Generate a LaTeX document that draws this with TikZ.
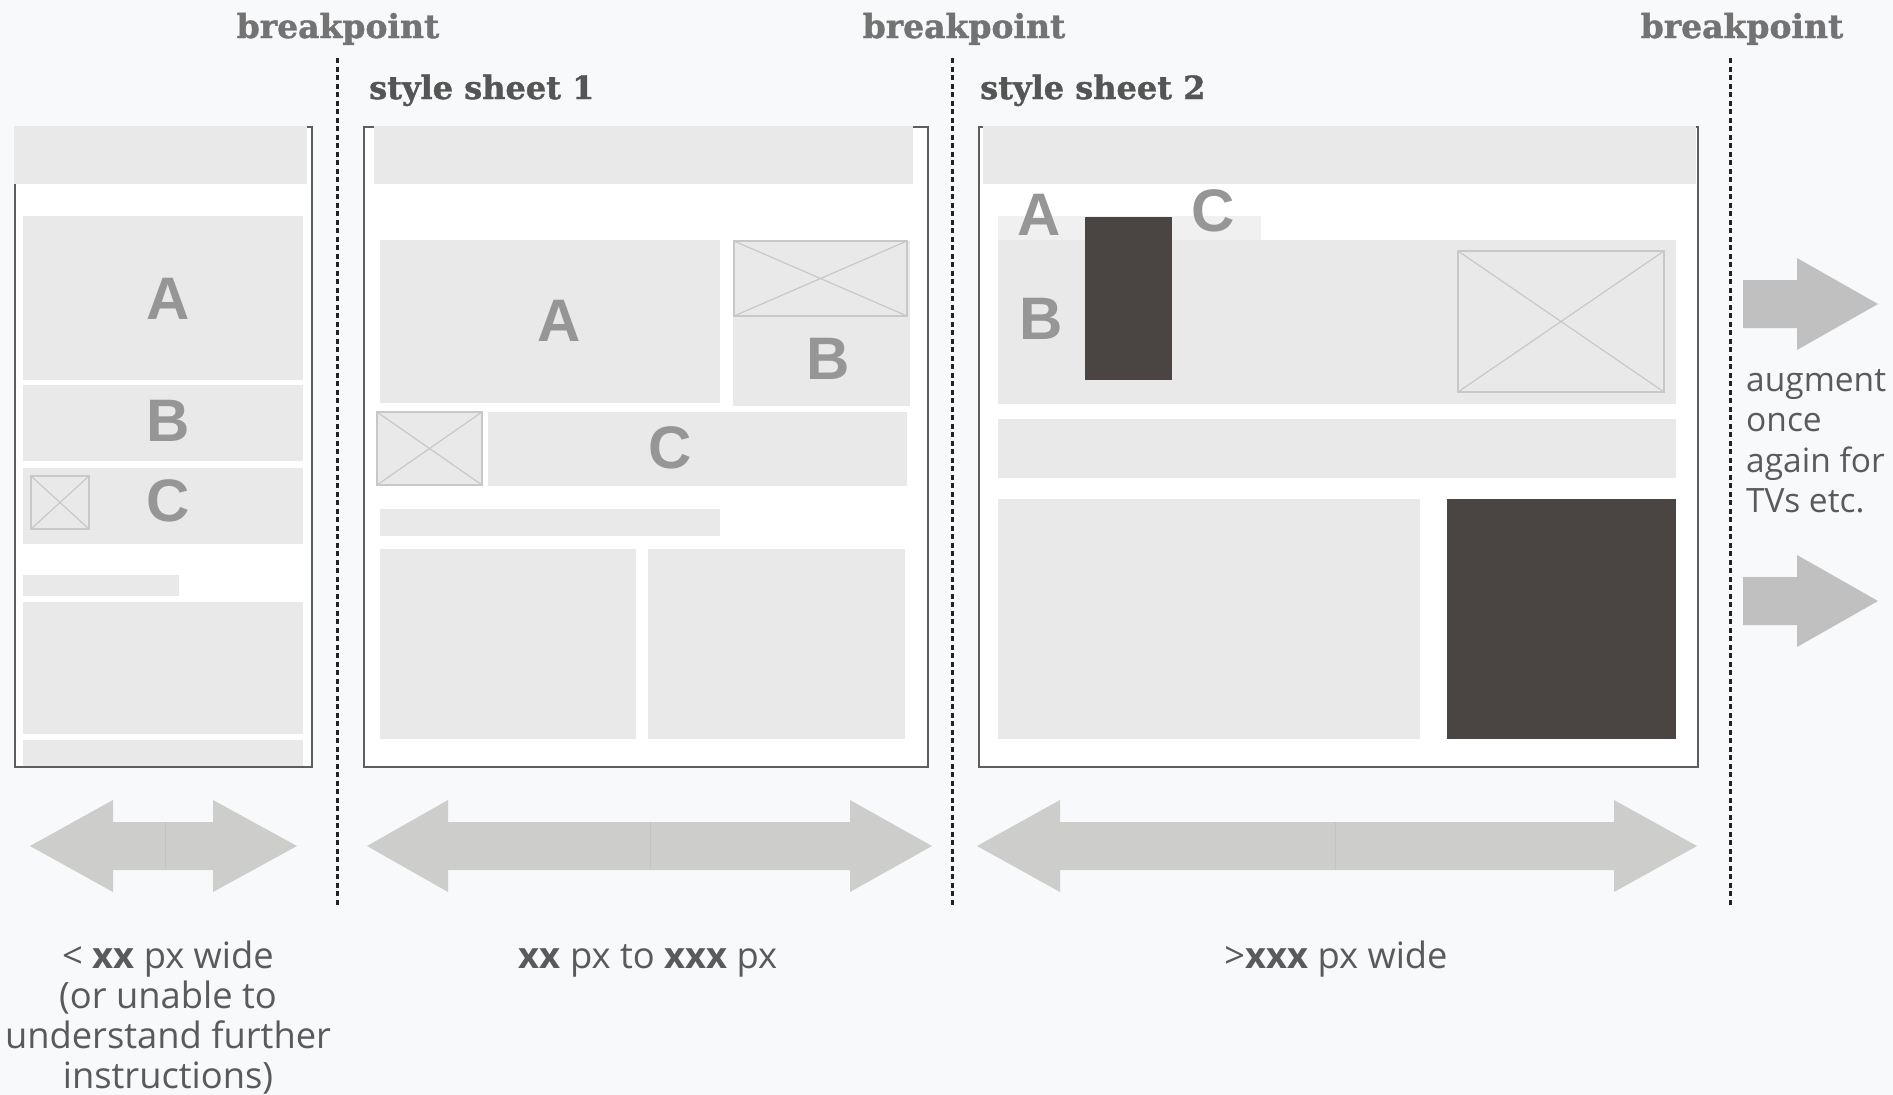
\documentclass[tikz,border=0pt]{standalone}
\usepackage{fontspec}
\setmainfont{Open Sans}
\newfontfamily\slabfont[BoldFeatures={FakeBold=1.2}]{DejaVu Serif}
\newfontfamily\letterfont{Liberation Sans}
\definecolor{bg}{HTML}{F8F9FA}
\definecolor{blockgray}{HTML}{E8E9E8}
\definecolor{stripgray}{HTML}{F0F0F0}
\definecolor{framegray}{HTML}{5E5E5E}
\definecolor{darkbrown}{HTML}{4A4542}
\definecolor{imggray}{HTML}{C8C8C8}
\definecolor{lblgray}{HTML}{969696}
\definecolor{arrowgray}{HTML}{CDCDCB}
\definecolor{seamgray}{HTML}{C3C3C1}
\definecolor{rarrowgray}{HTML}{C0C0C0}
\definecolor{bptext}{HTML}{737373}
\definecolor{sstext}{HTML}{555555}
\definecolor{bodytext}{HTML}{5A5A5A}
\definecolor{sepcol}{HTML}{222222}
\newcommand\imgph[4]{\draw[imgbox] (#1,#2) rectangle (#3,#4);
  \draw[imgx] (#1,#2) -- (#3,#4) (#1,#4) -- (#3,#2);}
\newcommand\dblarr[5]{%
  \fill[arrowgray] (#1,846) -- (#2,800) -- (#2,822) -- (#4,822) -- (#4,800) -- (#5,846)
     -- (#4,892) -- (#4,870) -- (#2,870) -- (#2,892) -- cycle;
  \draw[seamgray, line width=1pt] (#3,822) -- (#3,870);}
\begin{document}
\begin{tikzpicture}[x=1pt,y=-1pt,
  blk/.style={fill=blockgray},
  strip/.style={fill=stripgray},
  frm/.style={fill=white, draw=framegray, line width=2.5pt},
  dark/.style={fill=darkbrown},
  imgbox/.style={draw=imggray, line width=2pt, fill=blockgray},
  imgx/.style={draw=imggray, line width=1.2pt},
  sepline/.style={draw=sepcol, line width=3pt, dash pattern=on 5pt off 3.5pt},
  lbl/.style={text=lblgray, font=\letterfont\bfseries\fontsize{60pt}{60pt}\selectfont, inner sep=0pt},
  bp/.style={text=bptext, font=\slabfont\bfseries\fontsize{33pt}{40pt}\selectfont, inner sep=0pt, anchor=base},
  ss/.style={text=sstext, font=\slabfont\bfseries\fontsize{32pt}{36pt}\selectfont, inner sep=0pt, anchor=base west},
  aug/.style={text=bodytext, font=\fontsize{33.5pt}{38pt}\selectfont, inner sep=0pt, anchor=base west},
  low/.style={text=bodytext, font=\fontsize{36.3pt}{40pt}\selectfont, inner sep=0pt, anchor=base},
]
\useasboundingbox (0,0) rectangle (1893,1095);
\fill[bg] (0,0) rectangle (1893,1095);

% breakpoint separators
\draw[sepline] (337,58) -- (337,905);
\draw[sepline] (952,58) -- (952,905);
\draw[sepline] (1730,58) -- (1730,905);

\node[bp] (bp1) at (338,38) {breakpoint};
\node[bp] (bp2) at (964,38) {breakpoint};
\node[bp] (bp3) at (1742,38) {breakpoint};
\node[ss] (ss1) at (369,99) {style sheet 1};
\node[ss] (ss2) at (980,99) {style sheet 2};

% ---------- panel 1 ----------
\draw[frm] (15,127) rectangle (312,767);
\fill[blk] (13.5,125.5) rectangle (307,184);
\fill[blk] (23,216) rectangle (303,380);
\fill[blk] (23,385) rectangle (303,461);
\fill[blk] (23,468) rectangle (303,544);
\imgph{31}{476}{89}{529}
\fill[blk] (23,575) rectangle (179,596);
\fill[blk] (23,602) rectangle (303,734);
\fill[blk] (23,740) rectangle (303,765.5);
\node[lbl] (p1a) at (168,299) {A};
\node[lbl] (p1b) at (168,421) {B};
\node[lbl] (p1c) at (168,501) {C};

% ---------- panel 2 ----------
\draw[frm] (364,127) rectangle (928,767);
\fill[blk] (374,125.5) rectangle (913,184);
\fill[blk] (380,240) rectangle (720,403);
\fill[blk] (733,241) rectangle (910,406);
\imgph{734}{241}{907}{316}
\imgph{377}{412}{482}{485}
\fill[blk] (488,412) rectangle (907,486);
\fill[blk] (380,509) rectangle (720,536);
\fill[blk] (380,549) rectangle (636,739);
\fill[blk] (648,549) rectangle (905,739);
\node[lbl] (p2a) at (559,321) {A};
\node[lbl] (p2b) at (828,359) {B};
\node[lbl] (p2c) at (670,448) {C};

% ---------- panel 3 ----------
\draw[frm] (979,127) rectangle (1698,767);
\fill[blk] (983,125.5) rectangle (1696,184);
\fill[strip] (998,216) rectangle (1261,240);
\fill[blk] (998,240) rectangle (1676,404);
\fill[dark] (1085,217) rectangle (1172,380);
\imgph{1458}{251}{1664}{392}
\fill[blk] (998,419) rectangle (1676,478);
\fill[blk] (998,499) rectangle (1420,739);
\fill[dark] (1447,499) rectangle (1676,739);
\node[lbl] (p3a) at (1039,215) {A};
\node[lbl] (p3c) at (1213,211) {C};
\node[lbl] (p3b) at (1041,319) {B};

% ---------- right arrows ----------
\fill[rarrowgray] (1743,280) -- (1797,280) -- (1797,258) -- (1878,304) -- (1797,350) -- (1797,328) -- (1743,328) -- cycle;
\fill[rarrowgray] (1743,577) -- (1797,577) -- (1797,555) -- (1878,601) -- (1797,647) -- (1797,625) -- (1743,625) -- cycle;
\node[aug] (aug1) at (1746,391) {augment};
\node[aug] (aug2) at (1746,431.5) {once};
\node[aug] (aug3) at (1746,472) {again for};
\node[aug] (aug4) at (1746,512.5) {TVs etc.};

% ---------- width arrows ----------
\dblarr{30}{113}{165}{213}{297}
\dblarr{367}{448}{650}{850}{932}
\dblarr{977}{1060}{1335}{1614}{1697}

\node[low] (w1a) at (168,968) {< \textbf{xx} px wide};
\node[low] (w1b) at (168,1008) {(or unable to};
\node[low] (w1c) at (168,1048) {understand further};
\node[low] (w1d) at (168,1088) {instructions)};
\node[low] (w2) at (648,968) {\textbf{xx} px to \textbf{xxx} px};
\node[low] (w3) at (1336,968) {>\textbf{xxx} px wide};
\end{tikzpicture}
\end{document}
